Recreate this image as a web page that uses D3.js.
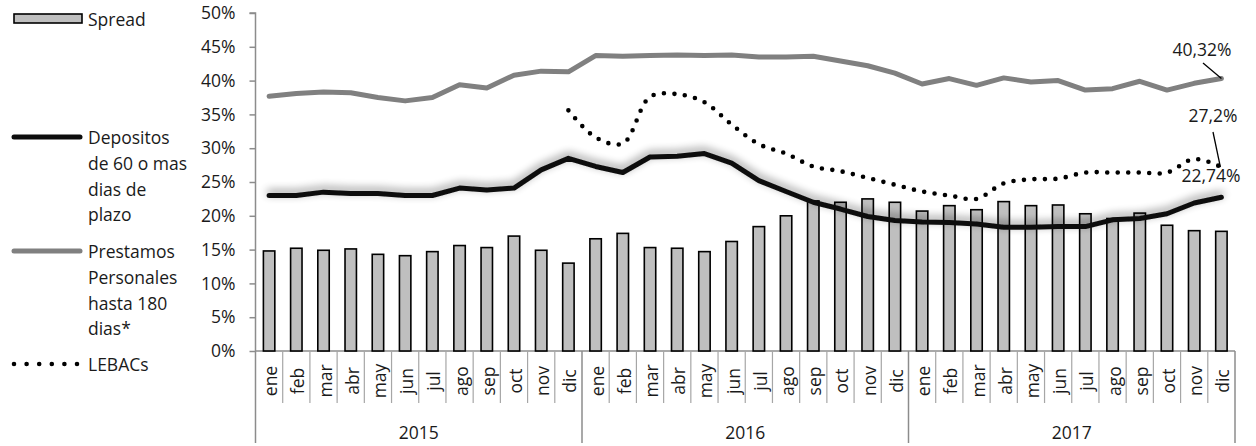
<!DOCTYPE html>
<html><head><meta charset="utf-8">
<script src="https://cdn.jsdelivr.net/npm/d3@7"></script>
<style>
html,body{margin:0;padding:0;background:#fff;}
svg text{font-family:"Open Sans",sans-serif;fill:#1a1a1a;}
</style></head>
<body><svg id="c" width="1256" height="446"></svg>
<script>
const monthNames = ["ene","feb","mar","abr","may","jun","jul","ago","sep","oct","nov","dic"];
const years = ["2015","2016","2017"];
const yTicks = [0,5,10,15,20,25,30,35,40,45,50];
const spread = [14.8,15.2,14.9,15.1,14.3,14.1,14.7,15.6,15.3,17.0,14.9,13.0,
                16.6,17.4,15.3,15.2,14.7,16.2,18.4,20.0,22.2,22.0,22.5,22.0,
                20.7,21.5,20.9,22.1,21.5,21.6,20.3,19.6,20.4,18.6,17.8,17.7];
const depositos = [23.0,23.0,23.5,23.3,23.3,23.0,23.0,24.1,23.8,24.1,26.8,28.5,
                   27.3,26.4,28.7,28.8,29.2,27.8,25.2,23.6,22.0,21.0,19.9,19.3,
                   19.1,19.0,18.8,18.3,18.3,18.4,18.4,19.4,19.6,20.3,21.9,22.74];
const prestamos = [37.7,38.1,38.3,38.2,37.5,37.0,37.5,39.4,38.9,40.8,41.4,41.3,
                   43.7,43.6,43.7,43.8,43.7,43.8,43.5,43.5,43.6,42.9,42.2,41.1,
                   39.5,40.3,39.3,40.4,39.8,40.0,38.6,38.8,39.9,38.6,39.6,40.32];
const lebacs = [null,null,null,null,null,null,null,null,null,null,null,35.6,
                31.6,30.7,37.6,38.0,36.8,33.5,30.6,29.2,27.3,26.6,25.6,24.6,
                23.6,23.0,22.5,24.8,25.4,25.5,26.4,26.4,26.4,26.4,28.4,27.2];
const annotations = [
  {text:"40,32%", series:"prestamos", value:40.32},
  {text:"27,2%", series:"lebacs", value:27.2},
  {text:"22,74%", series:"depositos", value:22.74}
];

const cats = [];
years.forEach(y => monthNames.forEach(m => cats.push(y + "-" + m)));

const svg = d3.select("#c");
const x = d3.scaleBand().domain(cats).range([255.5, 1235]).padding(0);
const y = d3.scaleLinear().domain([0, 50]).range([351, 13]);
const bw = x.bandwidth();
const cx = i => x(cats[i]) + bw / 2;
const axisCol = "#8c8c8c";
const FS = "17.5px";

// defs: shadow for depositos
const defs = svg.append("defs");
const f = defs.append("filter").attr("id","sh").attr("x","-5%").attr("y","-60%").attr("width","110%").attr("height","220%");
f.append("feGaussianBlur").attr("in","SourceAlpha").attr("stdDeviation",4).attr("result","b");
f.append("feOffset").attr("in","b").attr("dy",-3).attr("result","o");
f.append("feComponentTransfer").attr("in","o").attr("result","s")
  .append("feFuncA").attr("type","linear").attr("slope",0.45);
const m = f.append("feMerge");
m.append("feMergeNode").attr("in","s");
m.append("feMergeNode").attr("in","SourceGraphic");

// y axis
const yAxis = d3.axisLeft(y).tickValues(yTicks).tickFormat(d => d + "%").tickSize(6).tickPadding(14);
const gy = svg.append("g").attr("transform","translate(255.5,0)").call(yAxis);
gy.select(".domain").attr("stroke",axisCol).attr("stroke-width",1.5).attr("d","M-6,13H0V351");
gy.selectAll(".tick line").attr("stroke",axisCol).attr("stroke-width",1.5);
gy.selectAll(".tick text").style("font-size",FS).style("font-family","'Open Sans',sans-serif").attr("fill","#1a1a1a");

// x axis baseline & separators
const gx = svg.append("g");
gx.append("line").attr("x1",255.5).attr("x2",1235).attr("y1",y(0)).attr("y2",y(0)).attr("stroke",axisCol).attr("stroke-width",1.5);
cats.forEach((c,i) => {
  const xl = x(c);
  const isYear = i % 12 === 0;
  gx.append("line").attr("x1",xl).attr("x2",xl).attr("y1",y(0)).attr("y2",isYear?443:403)
    .attr("stroke",isYear?axisCol:"#a6a6a6").attr("stroke-width",isYear?1.5:1.2);
});
gx.append("line").attr("x1",1235).attr("x2",1235).attr("y1",y(0)).attr("y2",443).attr("stroke",axisCol).attr("stroke-width",1.5);
cats.forEach((c,i) => {
  gx.append("text").attr("transform",`translate(${cx(i)+1},381) rotate(-90)`)
    .attr("text-anchor","middle").attr("dominant-baseline","central").style("font-size",FS)
    .text(monthNames[i % 12]);
});
years.forEach((yr,k) => {
  const x0 = x(cats[k*12]), x1 = x(cats[k*12+11]) + bw;
  gx.append("text").attr("x",(x0+x1)/2).attr("y",432).attr("text-anchor","middle")
    .attr("dominant-baseline","central").style("font-size",FS).text(yr);
});

// bars
svg.append("g").selectAll("rect").data(spread).join("rect")
  .attr("x",(d,i) => cx(i) - bw*0.21).attr("width",bw*0.42)
  .attr("y",d => y(d)).attr("height",d => y(0) - y(d))
  .attr("fill","#bfbfbf").attr("stroke","#000").attr("stroke-width",1.6);

// lines
const lineLin = d3.line().defined(d => d != null).x((d,i) => cx(i)).y(d => y(d));
const lineSmooth = d3.line().defined(d => d != null).x((d,i) => cx(i)).y(d => y(d)).curve(d3.curveCatmullRom.alpha(0.5));

svg.append("path").attr("d",lineLin(prestamos)).attr("fill","none").attr("stroke","#808080")
  .attr("stroke-width",5).attr("stroke-linejoin","round").attr("stroke-linecap","round");
svg.append("path").attr("d",lineLin(depositos)).attr("fill","none").attr("stroke","#0d0d0d")
  .attr("stroke-width",5).attr("stroke-linejoin","round").attr("stroke-linecap","round").attr("filter","url(#sh)");
svg.append("path").attr("d",lineSmooth(lebacs)).attr("fill","none").attr("stroke","#000")
  .attr("stroke-width",4.6).attr("stroke-linecap","round").attr("stroke-dasharray","0 10.5");

// annotations
const last = cats.length - 1;
const ann = svg.append("g");
ann.append("text").attr("x",1202).attr("y",49).attr("text-anchor","middle").attr("dominant-baseline","central").style("font-size",FS).text(annotations[0].text);
ann.append("line").attr("x1",1203).attr("y1",63).attr("x2",cx(last)).attr("y2",y(annotations[0].value)).attr("stroke","#000").attr("stroke-width",1.3);
ann.append("text").attr("x",1213).attr("y",115).attr("text-anchor","middle").attr("dominant-baseline","central").style("font-size",FS).text(annotations[1].text);
ann.append("line").attr("x1",1213).attr("y1",132).attr("x2",cx(last)-1).attr("y2",y(annotations[1].value)).attr("stroke","#000").attr("stroke-width",1.3);
ann.append("text").attr("x",1211).attr("y",175).attr("text-anchor","middle").attr("dominant-baseline","central").style("font-size",FS).text(annotations[2].text);

// legend
const lg = svg.append("g");
lg.append("rect").attr("x",14).attr("y",14).attr("width",68).attr("height",9).attr("fill","#bfbfbf").attr("stroke","#000").attr("stroke-width",1.6);
lg.append("text").attr("x",88).attr("y",19).attr("dominant-baseline","central").style("font-size",FS).text("Spread");
const legItems = [
  {lines:["Depositos","de 60 o mas","dias de","plazo"], y0:137, stroke:"#0d0d0d", dash:null, w:5},
  {lines:["Prestamos","Personales","hasta 180","dias*"], y0:251, stroke:"#808080", dash:null, w:5},
  {lines:["LEBACs"], y0:364, stroke:"#000", dash:"0 12.6", w:4.6}
];
legItems.forEach(it => {
  const l = lg.append("line").attr("x1",14).attr("x2",80).attr("y1",it.y0).attr("y2",it.y0)
    .attr("stroke",it.stroke).attr("stroke-width",it.w).attr("stroke-linecap","round");
  if (it.dash) l.attr("stroke-dasharray",it.dash);
  it.lines.forEach((t,k) => lg.append("text").attr("x",88).attr("y",it.y0 + k*25.8)
    .attr("dominant-baseline","central").style("font-size",FS).text(t));
});
</script></body></html>
